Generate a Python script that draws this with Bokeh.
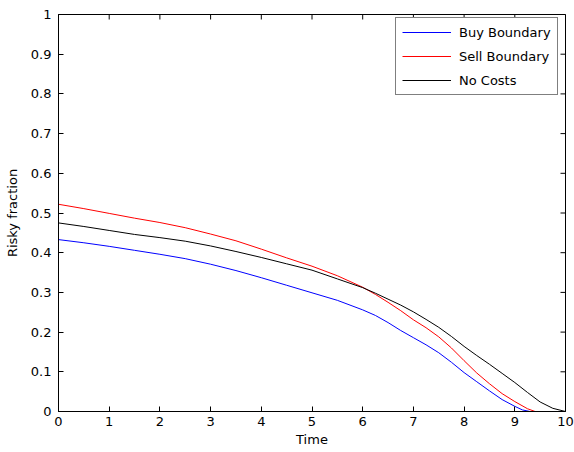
import math
from bokeh.plotting import figure
from bokeh.models import FixedTicker, Legend, LegendItem, Range1d
from bokeh.embed import file_html
from bokeh.resources import INLINE

# ---- data ----
time_buy = [0, 0.5, 1, 1.5, 2, 2.5, 3, 3.5, 4, 4.5, 5, 5.5, 6, 6.25, 6.5, 6.75, 7, 7.25, 7.5,
            7.75, 8, 8.25, 8.5, 8.75, 9, 9.15, 9.3]
buy = [0.433, 0.425, 0.416, 0.406, 0.396, 0.385, 0.371, 0.355, 0.337, 0.318, 0.299, 0.280,
       0.256, 0.242, 0.224, 0.204, 0.186, 0.168, 0.148, 0.124, 0.098, 0.075, 0.052, 0.030,
       0.013, 0.004, 0.0]

time_sell = [0, 0.5, 1, 1.5, 2, 2.5, 3, 3.5, 4, 4.5, 5, 5.5, 6, 6.25, 6.5, 6.75, 7, 7.25, 7.5,
             7.75, 8, 8.25, 8.5, 8.75, 9, 9.25, 9.4, 9.55]
sell = [0.522, 0.511, 0.499, 0.487, 0.476, 0.463, 0.447, 0.430, 0.409, 0.387, 0.366, 0.342,
        0.313, 0.295, 0.275, 0.254, 0.231, 0.211, 0.188, 0.160, 0.128, 0.097, 0.070, 0.045,
        0.025, 0.007, 0.0, 0.0]

time_nc = [0, 0.5, 1, 1.5, 2, 2.5, 3, 3.5, 4, 4.5, 5, 5.5, 6, 6.25, 6.5, 6.75, 7, 7.25, 7.5,
           7.75, 8, 8.25, 8.5, 8.75, 9, 9.25, 9.5, 9.75, 10]
no_costs = [0.475, 0.466, 0.456, 0.446, 0.438, 0.429, 0.417, 0.403, 0.388, 0.372, 0.356, 0.334,
            0.312, 0.298, 0.283, 0.268, 0.251, 0.232, 0.212, 0.189, 0.164, 0.141, 0.119, 0.096,
            0.073, 0.048, 0.024, 0.008, 0.0]

x_ticks = [0, 1, 2, 3, 4, 5, 6, 7, 8, 9, 10]
y_ticks = [0, 0.1, 0.2, 0.3, 0.4, 0.5, 0.6, 0.7, 0.8, 0.9, 1]
y_tick_labels = ["0", "0.1", "0.2", "0.3", "0.4", "0.5", "0.6", "0.7", "0.8", "0.9", "1"]
x_min, x_max = 0, 10
y_min, y_max = 0, 1

FONT = "DejaVu Sans"
FS = "13px"

p = figure(width=574, height=452, output_backend="svg", toolbar_location=None,
           x_range=Range1d(x_min, x_max), y_range=Range1d(y_min, y_max),
           min_border_left=58, min_border_right=9, min_border_top=14, min_border_bottom=41)
p.background_fill_color = "white"
p.border_fill_color = "white"
p.outline_line_color = "black"
p.xgrid.visible = False
p.ygrid.visible = False

r_buy = p.line(time_buy, buy, line_color="#0000ff", line_width=1)
r_sell = p.line(time_sell, sell, line_color="#ff0000", line_width=1)
r_nc = p.line(time_nc, no_costs, line_color="#000000", line_width=1)

# box-style inward ticks on the top and right edges (half of each dash is clipped by the frame)
p.scatter(x_ticks, [y_max] * len(x_ticks), marker="dash", size=10, angle=math.pi / 2,
          line_color="black", line_width=1)
p.scatter([x_max] * len(y_ticks), y_ticks, marker="dash", size=10, angle=0,
          line_color="black", line_width=1)

def style(ax, ticks):
    ax.ticker = FixedTicker(ticks=ticks)
    ax.major_tick_in = 5
    ax.major_tick_out = 0
    ax.minor_tick_in = 0
    ax.minor_tick_out = 0
    ax.axis_line_color = "black"
    ax.major_tick_line_color = "black"
    ax.major_label_text_font = FONT
    ax.major_label_text_font_size = FS
    ax.major_label_text_color = "black"
    ax.axis_label_text_font = FONT
    ax.axis_label_text_font_size = FS
    ax.axis_label_text_font_style = "normal"
    ax.axis_label_text_color = "black"

xa = p.xaxis[0]
style(xa, x_ticks)
xa.axis_label = "Time"
xa.major_label_standoff = 5
xa.axis_label_standoff = 3

ya = p.yaxis[0]
style(ya, y_ticks)
ya.axis_label = "Risky fraction"
ya.major_label_standoff = 7
ya.axis_label_standoff = 8
ya.major_label_overrides = {t: l for t, l in zip(y_ticks, y_tick_labels)}

legend = Legend(items=[LegendItem(label="Buy Boundary", renderers=[r_buy]),
                       LegendItem(label="Sell Boundary", renderers=[r_sell]),
                       LegendItem(label="No Costs", renderers=[r_nc])],
                location=(337, 316))
legend.border_line_color = "black"
legend.border_line_width = 1
legend.background_fill_color = "white"
legend.background_fill_alpha = 1
legend.label_text_font = FONT
legend.label_text_font_size = FS
legend.label_text_color = "black"
legend.glyph_width = 49
legend.glyph_height = 16
legend.label_height = 16
legend.label_standoff = 8
legend.spacing = 8
legend.padding = 6
legend.margin = 0
p.add_layout(legend, "center")

open("out.html", "w").write(file_html(p, INLINE))
